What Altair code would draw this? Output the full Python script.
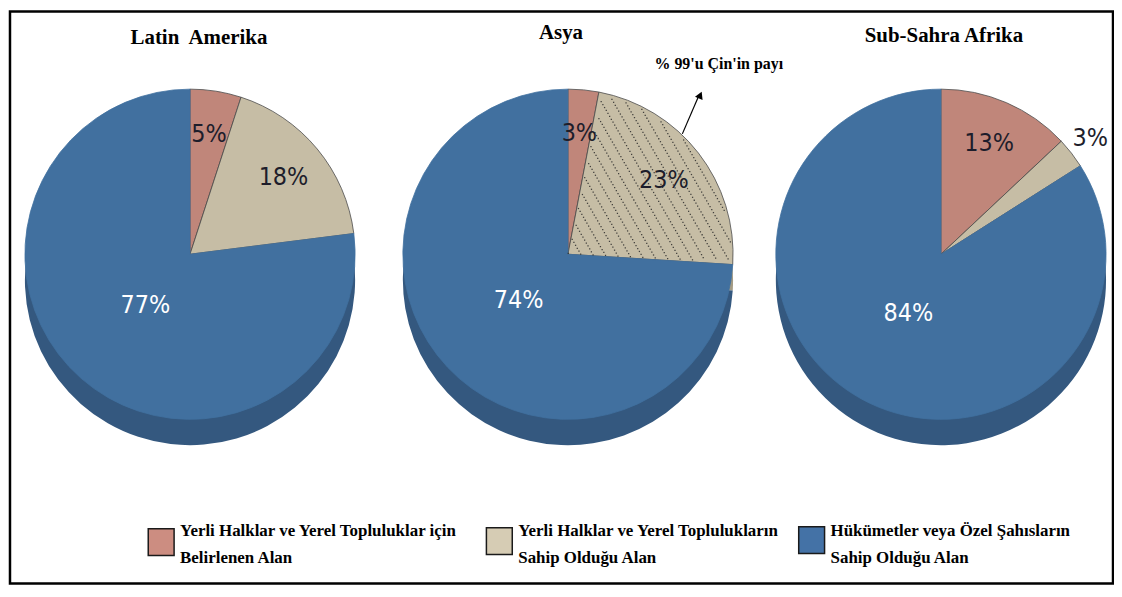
import math
import altair as alt
import pandas as pd

# ---------------- data ----------------
regions = ["Latin\u00a0 Amerika", "Asya", "Sub-Sahra Afrika"]
categories = [
    "Yerli Halklar ve Yerel Topluluklar için Belirlenen Alan",
    "Yerli Halklar ve Yerel Toplulukların Sahip Olduğu Alan",
    "Hükümetler veya Özel Şahısların Sahip Olduğu Alan",
]
legend_line1 = ["Yerli Halklar ve Yerel Topluluklar için",
                "Yerli Halklar ve Yerel Toplulukların",
                "Hükümetler veya Özel Şahısların"]
legend_line2 = ["Belirlenen Alan", "Sahip Olduğu Alan", "Sahip Olduğu Alan"]
latin_values = [5, 18, 77]
asya_values = [3, 23, 74]
ssa_values = [13, 3, 84]
annotation_text = "% 99'u Çin'in payı"

# ---------------- styles ----------------
face_colors = ["#C0867A", "#C6BDA5", "#41709F"]
side_colors = ["#9C6B61", "#A39B84", "#34587F"]
edge_colors = ["#4a4a4a", "#4a4a4a", "#41709F"]
legend_colors = ["#CC8D81", "#D6CCB4", "#4472A6"]
W, H = 1112, 578
R = 166
DEPTH = 26
centers = [(182, 245), (562, 245), (937, 245)]
title_pos = [(191, 34), (555, 29), (940, 32)]
LABEL_FONT = "Liberation Sans Narrow, DejaVu Sans Condensed, Arial Narrow, sans-serif"
SERIF = "Liberation Serif, Times New Roman, serif"
DARK = "#1d1d2b"

rows = []
for reg, vals in zip(regions, [latin_values, asya_values, ssa_values]):
    for i, (cat, v) in enumerate(zip(categories, vals)):
        rows.append({"region": reg, "cat": cat, "ord": i, "value": v,
                     "label": f"{v}%", "face": face_colors[i],
                     "side": side_colors[i], "edge": edge_colors[i]})
df = pd.DataFrame(rows)

theta = alt.Theta("value:Q", stack=True,
                  scale=alt.Scale(domain=[0, 100], range=[0, 2 * math.pi]))
order = alt.Order("ord:Q")


def label_layer(base, cond, radius, color, cx, cy):
    return base.mark_text(radius=radius, font=LABEL_FONT, fontSize=25,
                          color=color).encode(
        theta=theta, order=order,
        text=alt.condition(cond, alt.Text("label:N"), alt.value("")),
        x=alt.value(cx), y=alt.value(cy))


layers = []
for k, reg in enumerate(regions):
    cx, cy = centers[k]
    base = alt.Chart(df).transform_filter(alt.datum.region == reg)
    side = base.mark_arc(outerRadius=R, strokeWidth=0).encode(
        theta=theta, order=order,
        fill=alt.Fill("side:N", scale=None),
        x=alt.value(cx), y=alt.value(cy + DEPTH))
    face = base.mark_arc(outerRadius=R, strokeWidth=0.8).encode(
        theta=theta, order=order,
        fill=alt.Fill("face:N", scale=None),
        stroke=alt.Stroke("edge:N", scale=None),
        x=alt.value(cx), y=alt.value(cy))
    layers += [side, face]

    if k == 1:
        # dotted diagonal hatching on the Asia "owned" slice (texture only)
        a0 = asya_values[0] / 100 * 360 + 1.2
        a1 = (asya_values[0] + asya_values[1]) / 100 * 360 - 1.0
        hatch = (
            alt.Chart(alt.sequence(0, 60 * 110, as_="i"))
            .transform_calculate(L="floor(datum.i / 110)", j="datum.i % 110")
            .transform_calculate(
                u="(datum.L - 30) * 10.5", v="(datum.j - 55) * 3.4")
            .transform_calculate(
                px=f"{cx} + 85 + datum.u * 0.866 + datum.v * 0.5",
                py=f"{cy} - 85 - datum.u * 0.5 + datum.v * 0.866")
            .transform_calculate(
                rr=f"sqrt(pow(datum.px - {cx}, 2) + pow(datum.py - {cy}, 2))",
                ang=f"(atan2(datum.px - {cx}, {cy} - datum.py) * 180 / PI + 360) % 360")
            .transform_filter(
                f"datum.rr < {R - 2} && datum.ang > {a0} && datum.ang < {a1}")
            .mark_square(size=1.6, color="#2a2a2a", opacity=0.85, filled=True)
            .encode(x=alt.X("px:Q", scale=None), y=alt.Y("py:Q", scale=None))
        )
        layers.append(hatch)

    if k == 2:
        layers.append(label_layer(base, alt.datum.ord == 0, 122, DARK, cx, cy))
        layers.append(label_layer(base, alt.datum.ord == 1, 190, DARK, cx, cy))
    else:
        layers.append(label_layer(base, alt.datum.ord < 2, 122, DARK, cx, cy))
    layers.append(label_layer(base, alt.datum.ord == 2, 68, "#ffffff", cx, cy))

    tx, ty = title_pos[k]
    title = alt.Chart(pd.DataFrame({"t": [reg]})).mark_text(
        font=SERIF, fontSize=21, fontWeight="bold", color="#000000",
        baseline="alphabetic").encode(text="t:N", x=alt.value(tx), y=alt.value(ty))
    layers.append(title)

# annotation arrow for Asia
ann_df = pd.DataFrame({"t": [annotation_text]})
arrow_line = alt.Chart(ann_df).mark_rule(color="#000000", strokeWidth=1.2).encode(
    x=alt.value(677), y=alt.value(124), x2=alt.value(693), y2=alt.value(87))
arrow_head = alt.Chart(ann_df).mark_point(
    shape="triangle-up", filled=True, color="#000000", size=70, angle=24, opacity=1).encode(
    x=alt.value(695), y=alt.value(85))
ann_text = alt.Chart(ann_df).mark_text(
    font=SERIF, fontSize=16, fontWeight="bold", align="left", baseline="alphabetic",
    color="#000000").encode(text="t:N", x=alt.value(649), y=alt.value(59))
layers += [arrow_line, arrow_head, ann_text]

# custom legend
sw_x = [140, 480, 794]
sw_y = [521, 520, 519]
for i in range(3):
    ldf = pd.DataFrame({"cat": [categories[i]], "l1": [legend_line1[i]],
                        "l2": [legend_line2[i]]})
    sw = alt.Chart(ldf).mark_rect(fill=legend_colors[i], stroke="#1a1a1a",
                                  strokeWidth=1.5).encode(
        x=alt.value(sw_x[i]), x2=alt.value(sw_x[i] + 26),
        y=alt.value(sw_y[i]), y2=alt.value(sw_y[i] + 27))
    t1 = alt.Chart(ldf).mark_text(font=SERIF, fontSize=17, fontWeight="bold",
                                  align="left", baseline="alphabetic",
                                  color="#000000").encode(
        text="l1:N", x=alt.value(sw_x[i] + 32), y=alt.value(528))
    t2 = alt.Chart(ldf).mark_text(font=SERIF, fontSize=17, fontWeight="bold",
                                  align="left", baseline="alphabetic",
                                  color="#000000").encode(
        text="l2:N", x=alt.value(sw_x[i] + 32), y=alt.value(555))
    layers += [sw, t1, t2]

border = alt.Chart(pd.DataFrame({"b": [0]})).mark_rect(
    fill=None, stroke="#000000", strokeWidth=2.5).encode(
    x=alt.value(1), x2=alt.value(W - 2), y=alt.value(1), y2=alt.value(H - 2))
layers.append(border)

chart = alt.layer(*layers).properties(
    width=W, height=H, padding=0,
    autosize=alt.AutoSizeParams(type="fit", contains="padding"),
).configure_view(stroke=None)

chart.save("out.html", embed_options={"renderer": "svg", "actions": False})
